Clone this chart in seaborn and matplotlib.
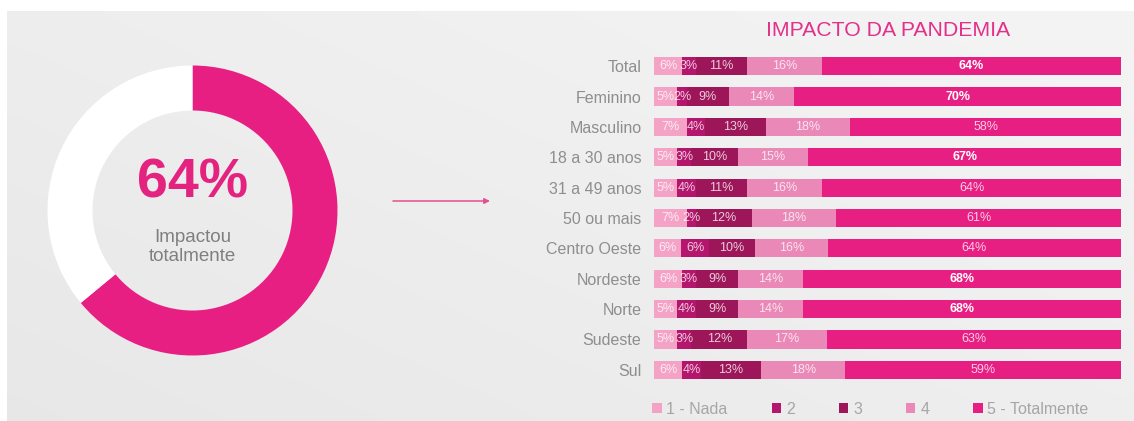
import numpy as np
import pandas as pd
import matplotlib
matplotlib.use("Agg")
import matplotlib.pyplot as plt
from matplotlib.patches import Patch
import seaborn as sns

# ---- data -------------------------------------------------------------
grupos = ["Total", "Feminino", "Masculino", "18 a 30 anos", "31 a 49 anos",
          "50 ou mais", "Centro Oeste", "Nordeste", "Norte", "Sudeste", "Sul"]
nivel_1 = [6, 5, 7, 5, 5, 7, 6, 6, 5, 5, 6]
nivel_2 = [3, 2, 4, 3, 4, 2, 6, 3, 4, 3, 4]
nivel_3 = [11, 9, 13, 10, 11, 12, 10, 9, 9, 12, 13]
nivel_4 = [16, 14, 18, 15, 16, 18, 16, 14, 14, 17, 18]
nivel_5 = [64, 70, 58, 67, 64, 61, 64, 68, 68, 63, 59]
destaque_5 = [True, True, False, True, False, False, False, True, True, False, False]
legendas = ["1 - Nada", "2", "3", "4", "5 - Totalmente"]
cores = ["#f4a3c6", "#b3166c", "#9c1659", "#ea89b7", "#e81f83"]

impacto_total = 64
titulo = "IMPACTO DA PANDEMIA"
subtitulo = "Impactou\ntotalmente"

# ---- style ------------------------------------------------------------
sns.set_theme(style="white")
plt.rcParams["font.family"] = ["Liberation Sans", "DejaVu Sans"]

W, H = 1134, 421
fig = plt.figure(figsize=(W / 100, H / 100), dpi=100)
fig.patch.set_facecolor("white")


def px(x, y):
    """pixel position (from top-left) -> figure fraction"""
    return x / W, 1 - y / H


# light grey panel with a soft gradient
bg = fig.add_axes([0, 0, 1, 1], zorder=-10)
bg.set_axis_off()
bg.set_xlim(0, W)
bg.set_ylim(H, 0)
yy, xx = np.mgrid[0:1:64j, 0:1:64j]
grad = 0.905 + 0.05 * (0.55 * xx + 0.45 * (1 - yy))
bg.imshow(grad, cmap="gray", vmin=0, vmax=1, extent=(7, W, H, 11),
          aspect="auto", interpolation="bilinear")

# arrow linking the donut to the breakdown
bg.annotate("", xy=(490, 201), xytext=(393, 201),
            arrowprops=dict(arrowstyle="-|>", color="#e2508f", lw=1.1,
                            mutation_scale=8, shrinkA=0, shrinkB=0))

# ---- donut --------------------------------------------------------------
cx, cy, r_out, r_in = 192.5, 210.5, 145, 100
box = 150
ax_d = fig.add_axes([(cx - box) / W, (H - cy - box) / H, 2 * box / W, 2 * box / H])
ax_d.pie([impacto_total, 100 - impacto_total], colors=[cores[4], "white"],
         startangle=90, counterclock=False, radius=1,
         wedgeprops=dict(width=(r_out - r_in) / r_out, edgecolor="none"))
lim = box / r_out
ax_d.set_xlim(-lim, lim)
ax_d.set_ylim(-lim, lim)
ax_d.set_axis_off()
ax_d.patch.set_visible(False)

fig.text(*px(cx, 184), f"{impacto_total}%", ha="center", va="center",
         fontsize=40, fontweight="bold", color="#e3237f")
fig.text(*px(cx, 247), subtitulo, ha="center", va="center",
         fontsize=13.5, color="#7f7f7f", linespacing=1.1)

# ---- stacked bars -------------------------------------------------------
niveis = np.array([nivel_1, nivel_2, nivel_3, nivel_4, nivel_5], dtype=float)
share = niveis / niveis.sum(axis=0) * 100
acum = np.cumsum(share, axis=0)

ax = fig.add_axes([654 / W, 1 - 385 / H, 467 / W, 334 / H])
ax.patch.set_visible(False)

# draw from the full bar down to level 1 so each level overlays the next
for k in range(4, -1, -1):
    df = pd.DataFrame({"grupo": grupos, "acum": acum[k]})
    sns.barplot(data=df, x="acum", y="grupo", order=grupos, orient="h",
                color=cores[k], saturation=1, width=0.6, linewidth=0, ax=ax)

ax.set_xlim(0, 100)
ax.set_ylim(len(grupos) - 0.5, -0.5)
ax.set_xlabel("")
ax.set_ylabel("")
ax.set_xticks([])
for s in ax.spines.values():
    s.set_visible(False)
ax.tick_params(axis="y", length=0, pad=9, labelsize=11.5, labelcolor="#8e8e8e")

for i in range(len(grupos)):
    for k in range(5):
        centro = acum[k, i] - share[k, i] / 2
        negrito = (k == 4 and destaque_5[i])
        ax.text(centro, i, f"{int(niveis[k, i])}%", ha="center", va="center",
                fontsize=9, color="white", alpha=1.0 if negrito else 0.78,
                fontweight="bold" if negrito else "normal")

fig.text(*px(888, 30), titulo, ha="center", va="center",
         fontsize=15.3, color="#e3308a")

handles = [Patch(facecolor=c, edgecolor="none") for c in cores]
fig.legend(handles, legendas, ncol=5, loc="center left",
           bbox_to_anchor=px(652, 409), frameon=False, borderpad=0,
           borderaxespad=0, handlelength=0.6, handleheight=0.6,
           handletextpad=0.3, columnspacing=2.75, fontsize=11.5,
           labelcolor="#a6a6a6")

fig.savefig("out.png", dpi=100)
